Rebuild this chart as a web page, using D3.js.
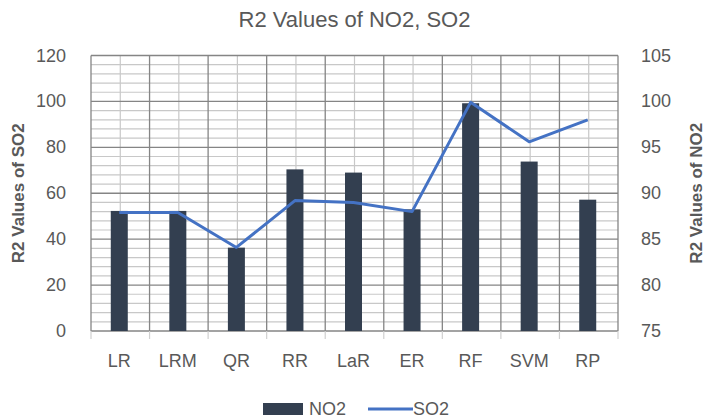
<!DOCTYPE html>
<html>
<head>
<meta charset="utf-8">
<script src="https://cdn.jsdelivr.net/npm/d3@7"></script>
<style>
  html, body { margin: 0; padding: 0; background: #fff; overflow: hidden; }
  svg { display: block; }
  svg text { font-family: 'Liberation Sans', Arial, sans-serif; fill: #595959; }
</style>
</head>
<body>
<svg id="chart" width="708" height="419"></svg>
<script>
// data
const models = ['LR', 'LRM', 'QR', 'RR', 'LaR', 'ER', 'RF', 'SVM', 'RP'];
const no2Values = [52.3, 52.3, 36.3, 70.4, 69.0, 53.0, 99.2, 73.8, 57.2];
const so2Values = [87.9, 87.9, 84.1, 89.2, 89.0, 88.0, 99.9, 95.6, 98.0];
const leftTicks = [0, 20, 40, 60, 80, 100, 120];
const rightTicks = [75, 80, 85, 90, 95, 100, 105];

const svg = d3.select('#chart');
const margin = { top: 55.5, right: 90, bottom: 88, left: 91 };
const width = +svg.attr('width');
const height = +svg.attr('height');
const innerWidth = width - margin.left - margin.right;
const innerHeight = height - margin.top - margin.bottom;

const xScale = d3.scaleBand().domain(models).range([0, innerWidth]);
const yLeft = d3.scaleLinear().domain([0, 120]).range([innerHeight, 0]);
const yRight = d3.scaleLinear().domain([75, 105]).range([innerHeight, 0]);

const barColor = '#333f50';
const lineColor = '#4472c4';

// title
svg.append('text')
    .attr('x', margin.left + innerWidth / 2)
    .attr('y', 27)
    .attr('text-anchor', 'middle')
    .style('font-size', '22px')
    .text('R2 Values of NO2, SO2');

const g = svg.append('g')
    .attr('transform', `translate(${margin.left}, ${margin.top})`);

// minor horizontal grid (every 4 on left axis)
g.append('g')
    .selectAll('line')
    .data(d3.range(0, 121, 4).filter(v => v % 20 !== 0))
    .join('line')
    .attr('x1', 0).attr('x2', innerWidth)
    .attr('y1', d => yLeft(d)).attr('y2', d => yLeft(d))
    .attr('stroke', '#c8c8c8').attr('stroke-width', 1.2);

// minor vertical grid at category centers
g.append('g')
    .selectAll('line')
    .data(models)
    .join('line')
    .attr('x1', d => xScale(d) + xScale.bandwidth() / 2)
    .attr('x2', d => xScale(d) + xScale.bandwidth() / 2)
    .attr('y1', 0).attr('y2', innerHeight)
    .attr('stroke', '#c8c8c8').attr('stroke-width', 1.2);

// major horizontal grid
g.append('g')
    .selectAll('line')
    .data(leftTicks)
    .join('line')
    .attr('x1', 0).attr('x2', innerWidth)
    .attr('y1', d => yLeft(d)).attr('y2', d => yLeft(d))
    .attr('stroke', '#858585').attr('stroke-width', 1.3);

// major vertical grid at category boundaries
g.append('g')
    .selectAll('line')
    .data(models.concat(['end']))
    .join('line')
    .attr('x1', (d, i) => i * xScale.step())
    .attr('x2', (d, i) => i * xScale.step())
    .attr('y1', 0).attr('y2', innerHeight)
    .attr('stroke', '#858585').attr('stroke-width', 1.3);

// tick marks below plot
g.append('g')
    .selectAll('line')
    .data(models.concat(['end']))
    .join('line')
    .attr('x1', (d, i) => i * xScale.step())
    .attr('x2', (d, i) => i * xScale.step())
    .attr('y1', innerHeight).attr('y2', innerHeight + 8)
    .attr('stroke', '#d0d0d0').attr('stroke-width', 1.2);

// bars (NO2)
const barW = 17;
g.append('g')
    .selectAll('rect')
    .data(models)
    .join('rect')
    .attr('x', d => xScale(d) + xScale.bandwidth() / 2 - barW / 2 - 1)
    .attr('y', (d, i) => yLeft(no2Values[i]))
    .attr('width', barW)
    .attr('height', (d, i) => innerHeight - yLeft(no2Values[i]))
    .attr('fill', barColor);

// line (SO2)
const line = d3.line()
    .x((d, i) => xScale(models[i]) + xScale.bandwidth() / 2 - 1)
    .y(d => yRight(d));

g.append('path')
    .datum(so2Values)
    .attr('d', line)
    .attr('fill', 'none')
    .attr('stroke', lineColor)
    .attr('stroke-width', 3)
    .attr('stroke-linejoin', 'round');

// left axis ticks
g.append('g')
    .selectAll('text')
    .data(leftTicks)
    .join('text')
    .attr('x', -25)
    .attr('y', d => yLeft(d) + 6)
    .attr('text-anchor', 'end')
    .style('font-size', '18px')
    .text(d => d);

// right axis ticks
g.append('g')
    .selectAll('text')
    .data(rightTicks)
    .join('text')
    .attr('x', innerWidth + 23)
    .attr('y', d => yRight(d) + 6)
    .attr('text-anchor', 'start')
    .style('font-size', '18px')
    .text(d => d);

// category labels
g.append('g')
    .selectAll('text')
    .data(models)
    .join('text')
    .attr('x', d => xScale(d) + xScale.bandwidth() / 2 - 1)
    .attr('y', innerHeight + 36)
    .attr('text-anchor', 'middle')
    .style('font-size', '18px')
    .text(d => d);

// axis titles
svg.append('text')
    .attr('transform', `translate(24, ${margin.top + innerHeight / 2}) rotate(-90)`)
    .attr('text-anchor', 'middle')
    .style('font-size', '17px')
    .style('font-weight', 'bold')
    .text('R2 Values of SO2');

svg.append('text')
    .attr('transform', `translate(702, ${margin.top + innerHeight / 2}) rotate(-90)`)
    .attr('text-anchor', 'middle')
    .style('font-size', '17px')
    .style('font-weight', 'bold')
    .text('R2 Values of NO2');

// legend
const legend = svg.append('g').attr('transform', 'translate(263, 409)');
legend.append('rect')
    .attr('x', 0).attr('y', -6)
    .attr('width', 40).attr('height', 12)
    .attr('fill', barColor);
legend.append('text')
    .attr('x', 46).attr('y', 6)
    .style('font-size', '18px')
    .text('NO2');
legend.append('line')
    .attr('x1', 105).attr('x2', 150)
    .attr('y1', 0).attr('y2', 0)
    .attr('stroke', lineColor).attr('stroke-width', 3);
legend.append('text')
    .attr('x', 150).attr('y', 6)
    .style('font-size', '18px')
    .text('SO2');
</script>
</body>
</html>
